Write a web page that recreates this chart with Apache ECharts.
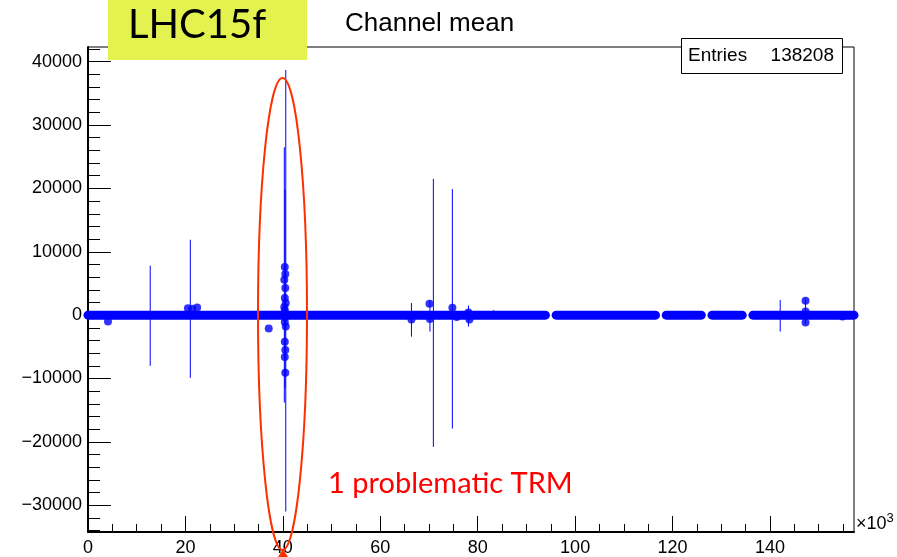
<!DOCTYPE html>
<html>
<head>
<meta charset="utf-8">
<script src="https://cdn.jsdelivr.net/npm/echarts@6/dist/echarts.min.js"></script>
<style>html,body{margin:0;padding:0;background:#fff;}#c{width:897px;height:557px;}</style>
</head>
<body>
<div id="c"></div>
<script>
// ---- axis ranges & ticks ----
const xMin = 0, xMax = 157248;
const yMin = -34230, yMax = 42320;
const xMajor = [0, 20000, 40000, 60000, 80000, 100000, 120000, 140000];
const xMinor = [0, 5000, 10000, 15000, 20000, 25000, 30000, 35000, 40000, 45000, 50000, 55000, 60000, 65000, 70000, 75000, 80000, 85000, 90000, 95000, 100000, 105000, 110000, 115000, 120000, 125000, 130000, 135000, 140000, 145000, 150000, 155000];
const yMajor = [-30000, -20000, -10000, 0, 10000, 20000, 30000, 40000];
const yMinor = [-34000, -32000, -30000, -28000, -26000, -24000, -22000, -20000, -18000, -16000, -14000, -12000, -10000, -8000, -6000, -4000, -2000, 0, 2000, 4000, 6000, 8000, 10000, 12000, 14000, 16000, 18000, 20000, 22000, 24000, 26000, 28000, 30000, 32000, 34000, 36000, 38000, 40000, 42000];

// ---- data: channels whose mean sits at ~0 (dense band), channel ranges ----
const bandStart = [0, 96100, 118700, 128100, 136500];
const bandEnd   = [93900, 116500, 125900, 134300, 157248];
const bandValue = 0;

// ---- outlying channel means ----
const pointX = [4100, 20500, 21400, 22400, 37100,
  40400, 40500, 40300, 40500, 40400, 40600, 40300, 40400, 40600, 40500, 40400, 40600, 40400, 40500, 40400, 40500,
  66400, 70100, 70200, 74800, 75700, 78100, 78300, 147300, 147300, 147300, 154900];
const pointY = [-1000, 1100, 1000, 1200, -2100,
  7600, 6500, 5600, 4300, 2700, 1900, 1300, 800, 200, -300, -1100, -1800, -4200, -5500, -6600, -9100,
  -700, 1800, -600, 1150, -300, 400, -700, 2250, 570, -1170, -200];

// ---- error bars (channel, low, high) ----
const errX  = [12770, 21000, 40600, 40300, 40450, 66400, 70200, 70900, 74800, 78100, 83300, 142100, 147300];
const errLo = [-8000, -9900, -31000, -13800, -11500, -3400, -2600, -20800, -17900, -1800, -100, -2600, -1500];
const errHi = [7800, 11900, 38700, 26500, 19800, 1900, 2400, 21500, 19900, 1500, 800, 2400, 2600];

const entries = 138208;
const FONT = 'Liberation Sans, Arial, sans-serif';
const BLUE = '#0000ff';

const chart = echarts.init(document.getElementById('c'), null, {renderer: 'canvas'});

const bandSeries = bandStart.map((s, i) => ({
  type: 'line',
  data: [[s, bandValue], [bandEnd[i], bandValue]],
  symbol: 'none',
  silent: true,
  animation: false,
  clip: true,
  lineStyle: {color: BLUE, width: 9, cap: 'round'},
  z: 3
}));

function minus(v) { return v < 0 ? '\u2212' + Math.abs(v) : String(v); }

const option = {
  animation: false,
  backgroundColor: '#ffffff',
  grid: {left: 88, right: 43, top: 47, bottom: 25, show: true, borderColor: '#000', borderWidth: 1, backgroundColor: 'transparent'},
  xAxis: [
    {
      type: 'value', min: xMin, max: xMax, position: 'bottom',
      axisLine: {show: true, onZero: false, lineStyle: {color: '#000', width: 2}},
      axisTick: {show: true, inside: true, length: 16, customValues: xMajor, lineStyle: {color: '#000', width: 1}},
      axisLabel: {show: true, customValues: xMajor, formatter: v => String(Math.round(v / 1000)), fontSize: 18, fontFamily: FONT, color: '#000', margin: 7},
      splitLine: {show: false}
    },
    {
      type: 'value', min: xMin, max: xMax, position: 'bottom',
      axisLine: {show: false, onZero: false},
      axisTick: {show: true, inside: true, length: 8, customValues: xMinor, lineStyle: {color: '#000', width: 1}},
      axisLabel: {show: false},
      splitLine: {show: false}
    }
  ],
  yAxis: [
    {
      type: 'value', min: yMin, max: yMax, position: 'left',
      axisLine: {show: true, onZero: false, lineStyle: {color: '#000', width: 2}},
      axisTick: {show: true, inside: true, length: 23, customValues: yMajor, lineStyle: {color: '#000', width: 1}},
      axisLabel: {show: true, customValues: yMajor, formatter: minus, fontSize: 18, fontFamily: FONT, color: '#000', margin: 6},
      splitLine: {show: false}
    },
    {
      type: 'value', min: yMin, max: yMax, position: 'left',
      axisLine: {show: false, onZero: false},
      axisTick: {show: true, inside: true, length: 12, customValues: yMinor, lineStyle: {color: '#000', width: 1}},
      axisLabel: {show: false},
      splitLine: {show: false}
    }
  ],
  series: [
    {
      type: 'custom',
      xAxisIndex: 0, yAxisIndex: 0,
      clip: true,
      silent: true,
      data: errX.map((x, i) => [x, errLo[i], errHi[i]]),
      encode: {x: 0, y: [1, 2]},
      renderItem: function (params, api) {
        const x = api.value(0), lo = api.value(1), hi = api.value(2);
        const p1 = api.coord([x, lo]);
        const p2 = api.coord([x, hi]);
        return {type: 'line', shape: {x1: p1[0], y1: p1[1], x2: p2[0], y2: p2[1]}, style: {stroke: BLUE, lineWidth: 1}};
      },
      z: 2
    },
    ...bandSeries,
    {
      type: 'scatter',
      xAxisIndex: 0, yAxisIndex: 0,
      data: pointX.map((x, i) => [x, pointY[i]]),
      symbol: 'circle', symbolSize: 8,
      itemStyle: {color: BLUE},
      silent: true,
      z: 4
    }
  ],
  graphic: [
    {type: 'text', left: 345, top: 11, z: 50, style: {text: 'Channel mean', font: '26px ' + FONT, fill: '#000'}},
    {type: 'rect', shape: {x: 108, y: 0, width: 199, height: 60}, style: {fill: '#e3f24f'}, z: 60},
    {type: 'text', x: 128, y: 25, z: 61, style: {text: 'LHC15f', font: '40px Lato, "Open Sans", sans-serif', fill: '#000', verticalAlign: 'middle', align: 'left'}},
    {type: 'rect', shape: {x: 681.5, y: 38.5, width: 161, height: 35}, style: {fill: '#fff', stroke: '#000', lineWidth: 1}, z: 60},
    {type: 'text', x: 688, y: 56, z: 61, style: {text: 'Entries', font: '19px ' + FONT, fill: '#000', verticalAlign: 'middle', align: 'left'}},
    {type: 'text', x: 834, y: 56, z: 61, style: {text: String(entries), font: '19px ' + FONT, fill: '#000', verticalAlign: 'middle', align: 'right'}},
    {type: 'text', x: 856, y: 533, z: 61, style: {text: '{a|\u00d710}{b|3}', verticalAlign: 'bottom', align: 'left',
      rich: {a: {font: '18px ' + FONT, fill: '#000', verticalAlign: 'bottom'}, b: {font: '13px ' + FONT, fill: '#000', verticalAlign: 'top', padding: [0, 0, 8, 0]}}}},
    {type: 'ellipse', shape: {cx: 282.5, cy: 314, rx: 24.5, ry: 236}, style: {fill: 'none', stroke: '#ff3000', lineWidth: 2}, z: 70},
    {type: 'polygon', shape: {points: [[283, 549], [278, 557], [288, 557]]}, style: {fill: '#ff3000'}, z: 70},
    {type: 'text', x: 328, y: 484, z: 70, style: {text: '1 problematic TRM', font: '29px Lato, "Open Sans", sans-serif', fill: '#ff0000', verticalAlign: 'middle', align: 'left'}}
  ]
};

chart.setOption(option);
</script>
</body>
</html>
